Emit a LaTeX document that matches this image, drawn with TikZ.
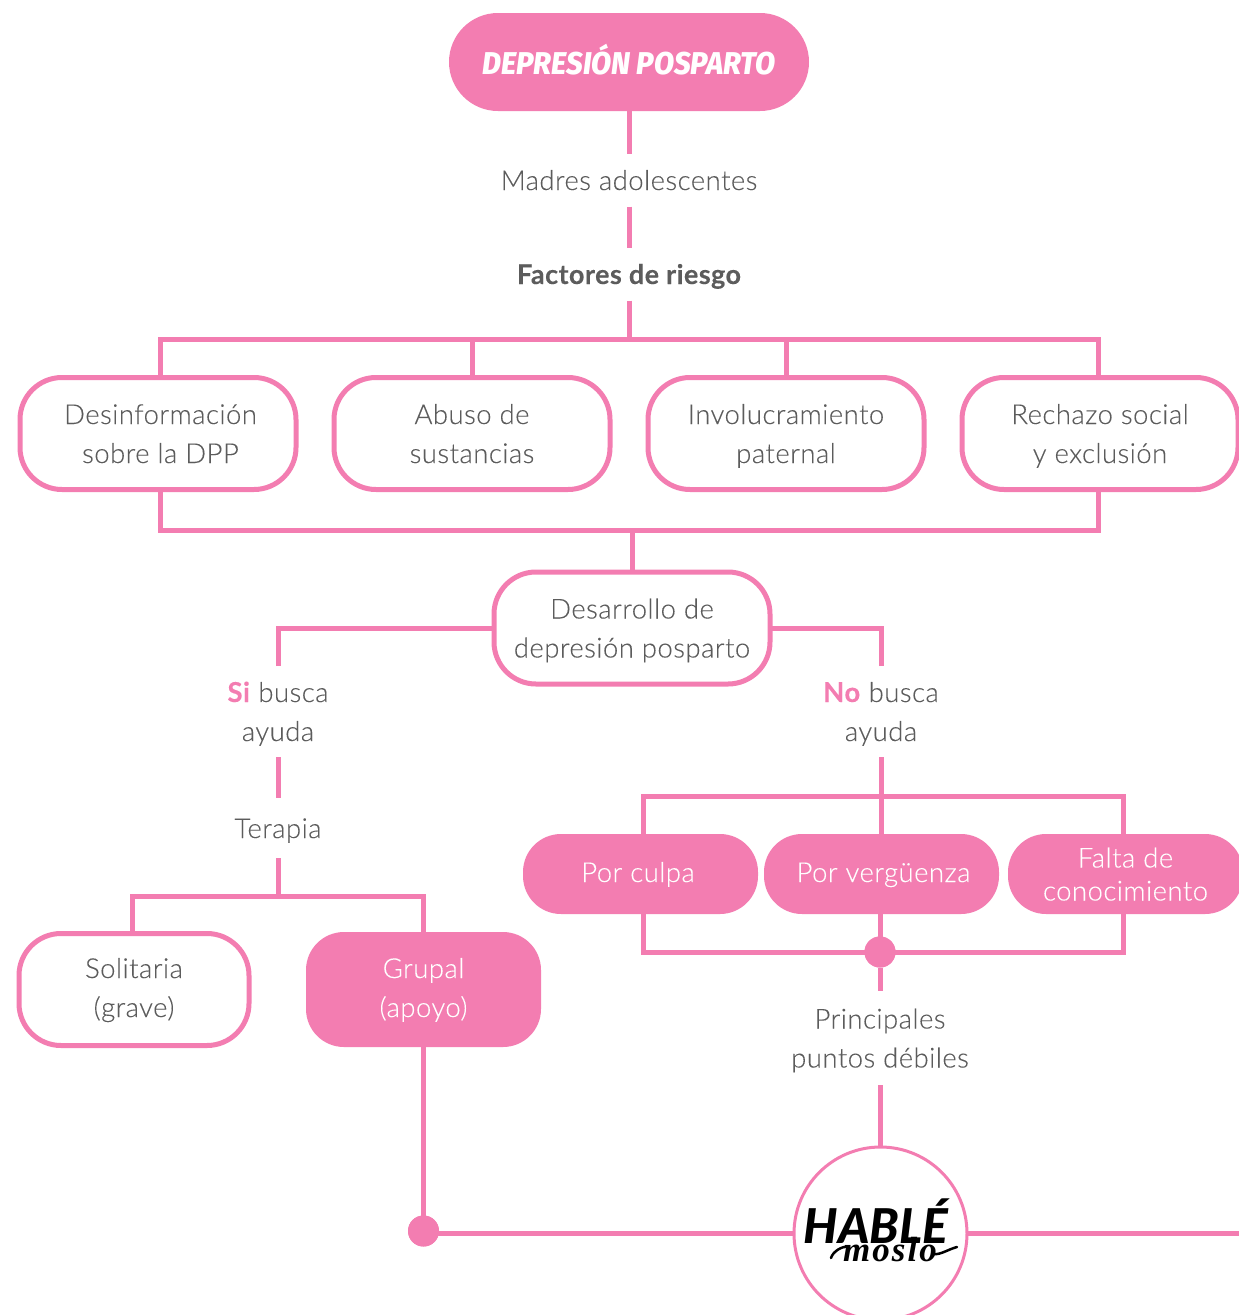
\documentclass[tikz,border=0pt]{standalone}
\usepackage{fontspec}
\setmainfont{Lato Light}[BoldFont={Lato Bold},LetterSpace=1.7,FakeBold=0.15]
\newfontfamily\headfont{Fira Sans ExtraBold}[ItalicFont={Fira Sans ExtraBold Italic},FakeStretch=0.93]
\newfontfamily\logofont{Lato Black}[ItalicFont={Lato Black Italic}]
\newfontfamily\handfont{Liberation Serif}[LetterSpace=6]
\definecolor{pink}{HTML}{F37DB1}
\definecolor{ink}{HTML}{5C5C5C}
\newcommand{\st}{\vrule width 0pt height 26pt depth 6pt\relax}
\newcommand{\sd}{\vrule width 0pt height 26pt depth 10pt\relax}
\tikzset{
  conn/.style={draw=pink,line width=5pt},
  txt/.style={font=\fontsize{27.5}{39}\selectfont,text=ink,align=center,inner sep=0pt,outer sep=0pt},
  obox/.style={txt,draw=pink,line width=5pt,fill=white,rounded corners=42pt,minimum width=276pt,minimum height=112pt},
  fbox/.style={txt,text=white,fill=pink,rounded corners=38pt,minimum width=235pt,minimum height=80pt,font=\fontsize{27.5}{30}\selectfont},
  dot/.style={circle,fill=pink,minimum size=31pt,inner sep=0pt,outer sep=0pt},
}
\begin{document}
\begin{tikzpicture}[x=1pt,y=-1pt]
\useasboundingbox (0,0) rectangle (1239,1315);
% nodes
\node[fbox,minimum width=360pt,minimum height=98pt,rounded corners=49pt,font=\headfont\itshape\fontsize{31.5}{34}\selectfont] (top) at (629,62) {\raisebox{5pt}{DEPRESIÓN POSPARTO}};
\node[txt,minimum height=53pt] (madres) at (629,180) {\st Madres adolescentes};
\node[txt,minimum height=53pt,font=\bfseries\fontsize{27}{39}\selectfont] (factores) at (629,274) {\st Factores de riesgo};
\coordinate (bus1) at (629,339);
\node[obox] (b1) at (158,433.5) {\hspace*{5pt}\st Desinformación\\\hspace*{5pt}\st sobre la DPP};
\node[obox] (b2) at (472,433.5) {\st Abuso de\\\st sustancias};
\node[obox] (b3) at (786,433.5) {\st Involucramiento\\\st paternal};
\node[obox] (b4) at (1100,433.5) {\st Rechazo social\\\st y exclusión};
\node[obox] (des) at (632,628) {\st Desarrollo de\\\st depresión posparto};
\node[txt,minimum height=91pt] (si) at (278,711.5) {\st\textcolor{pink}{\textbf{Si}} busca\\\st ayuda};
\node[txt,minimum height=91pt] (no) at (881,711.5) {\st\textcolor{pink}{\textbf{No}} busca\\\st ayuda};
\node[txt,minimum height=60pt] (ter) at (278,828) {\st Terapia};
\node[obox,minimum width=230pt] (sol) at (134,989.5) {\st Solitaria\\\sd (grave)};
\node[fbox,minimum height=115pt,font=\fontsize{27.5}{39}\selectfont] (gru) at (423.5,989.5) {\st Grupal\\\sd (apoyo)};
\node[fbox] (cul) at (640.5,874) {\sd Por culpa\hspace*{5pt}};
\node[fbox] (ver) at (881.5,874) {\hspace*{4pt}\sd Por vergüenza};
\node[fbox] (fal) at (1125.5,874) {\st Falta de\\\st conocimiento};
\node[dot] (d1) at (880,952) {};
\node[txt,minimum height=94pt] (pri) at (880,1038) {\st Principales\\\st puntos débiles};
\node[dot] (d2) at (423.5,1231) {};
\node[circle,draw=pink,line width=3pt,fill=white,minimum size=173pt,inner sep=0pt,outer sep=0pt] (logo) at (880.5,1233.5) {};
\coordinate (r) at (1239,1233.5);
% connectors
\draw[conn] (top.south) -- (madres.north);
\draw[conn] (madres.south) -- (factores.north);
\draw[conn] (factores.south) -- (bus1);
\draw[conn] (b1.north -| 160,0) |- (bus1) -| (b4.north -| 1098,0);
\draw[conn] (b2.north) -- (b2.north |- bus1);
\draw[conn] (b3.north) -- (b3.north |- bus1);
\coordinate (bus2) at (632,530);
\draw[conn] (b1.south -| 160,0) |- (bus2) -| (b4.south -| 1098,0);
\draw[conn] (bus2) -- (des.north);
\draw[conn] (si.north) |- (des.west);
\draw[conn] (no.north) |- (des.east);
\draw[conn] (si.south) -- (ter.north);
\coordinate (bus3) at (278,896);
\draw[conn] (ter.south) -- (bus3);
\draw[conn] (sol.north -| 132,0) |- (bus3) -| (gru.north);
\coordinate (bus4) at (881,796);
\draw[conn] (no.south) -- (ver.north -| no.south);
\draw[conn] (cul.north -| 643,0) |- (bus4) -| (fal.north -| 1123,0);
\draw[conn] (cul.south -| 643,0) |- (d1.center) -| (fal.south -| 1123,0);
\draw[conn] (ver.south -| d1.north) -- (d1.north);
\draw[conn] (d1.south) -- (pri.north);
\draw[conn] (pri.south) -- (logo.north -| pri.south);
\draw[conn] (gru.south) -- (d2.north);
\draw[conn] (d2.center |- logo.west) -- (logo.west);
\draw[conn] (logo.east) -- (r);
\node[dot] at (d1) {};
\node[dot] at (d2) {};
% logo
\node[anchor=base,inner sep=0pt,text=black,font=\logofont\itshape\fontsize{48}{48}\selectfont] (hab) at (876,1243) {HABLÉ};
\node[anchor=base,inner sep=0pt,text=black,font=\handfont\bfseries\itshape\fontsize{35}{35}\selectfont] (mos) at (890,1261) {moslo};
\draw[black,line width=2.5pt,line cap=round] (mos.base east) ++(-3,-7) .. controls +(6,1) and +(-8,2) .. (957,1247);
\draw[black,line width=2.5pt,line cap=round] (mos.base west) ++(4,-14) .. controls +(-4,-1) and +(2,-7) .. (831,1258);
\end{tikzpicture}
\end{document}
